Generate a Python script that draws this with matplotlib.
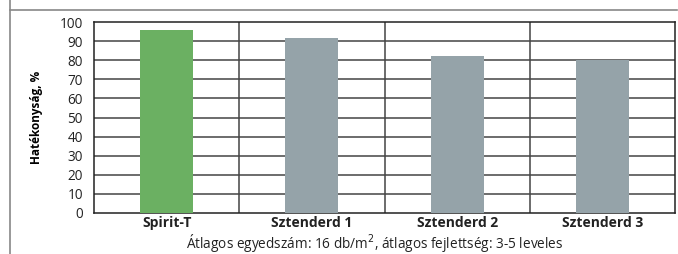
import matplotlib
matplotlib.use("Agg")
import matplotlib.pyplot as plt
from matplotlib.lines import Line2D

categories = ["Spirit-T", "Sztenderd 1", "Sztenderd 2", "Sztenderd 3"]
values = [96, 91.5, 82, 80]
colors = ["#6bb062", "#95a3a9", "#95a3a9", "#95a3a9"]
yticks = [0, 10, 20, 30, 40, 50, 60, 70, 80, 90, 100]

plt.rcParams['font.family'] = ['Open Sans', 'DejaVu Sans']

fig = plt.figure(figsize=(6.78, 2.54), dpi=100)
W, H = 678, 254
ax = fig.add_axes([94 / W, 1 - 213 / H, (675 - 94) / W, (213 - 22) / H])

x = list(range(len(categories)))
ax.bar(x, values, width=0.365, color=colors, zorder=3)
ax.set_xlim(-0.5, len(categories) - 0.5)
ax.set_ylim(0, 100)
ax.set_yticks(yticks)
ax.set_yticklabels([str(t) for t in yticks], fontsize=9.8, color="#222222")
ax.set_xticks(x)
ax.set_xticklabels(categories, fontsize=10, fontweight="bold", color="#222222")
ax.tick_params(axis="both", length=0, pad=2)
ax.tick_params(axis="y", pad=8)
for t in yticks[1:-1]:
    ax.axhline(t, color="#444444", lw=1.1, zorder=1)
for b in [0.5, 1.5, 2.5]:
    ax.axvline(b, color="#444444", lw=1.1, zorder=1)
for s in ax.spines.values():
    s.set_color("#222222")
    s.set_linewidth(1.1)
ax.set_ylabel("Hatékonyság, %", fontsize=8.5, fontweight="bold", labelpad=12)

fig.text(375 / W, 1 - 243.5 / H, "Átlagos egyedszám: 16 db/m$^2$, átlagos fejlettség: 3-5 leveles",
         ha="center", va="center", fontsize=9.8, color="#222222")

fig.add_artist(Line2D([10 / W, 677 / W], [1 - 10 / H, 1 - 10 / H], transform=fig.transFigure,
                      color="#888888", lw=1.2))
fig.add_artist(Line2D([10 / W, 10 / W], [0, 1], transform=fig.transFigure,
                      color="#888888", lw=1.2))

fig.savefig("out.png", dpi=100)
